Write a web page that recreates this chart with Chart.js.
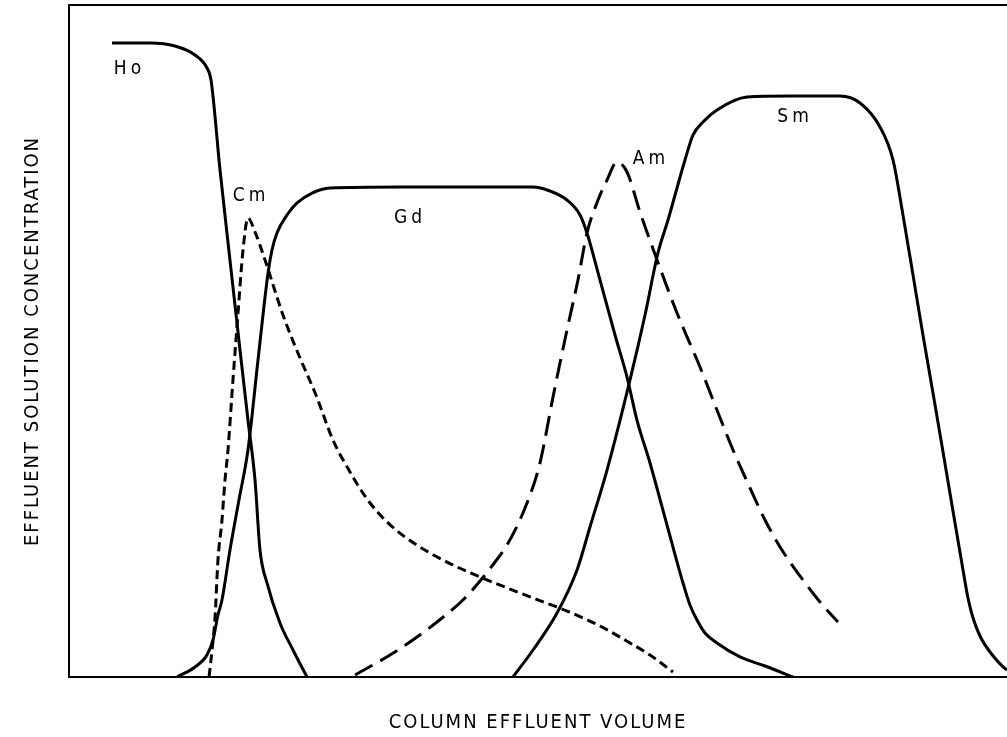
<!DOCTYPE html>
<html>
<head>
<meta charset="utf-8">
<title>Column effluent</title>
<script src="https://cdn.jsdelivr.net/npm/chart.js@4.4.1/dist/chart.umd.min.js"></script>
<style>
    html, body { margin: 0; padding: 0; background: #fff; overflow: hidden; }
    canvas { display: block; }
</style>
</head>
<body>
<canvas id="elutionChart" width="1007" height="737"></canvas>
<script>
// Elution curves (volume 0-100, concentration 0-100)
const hoX = [4.58, 8.64, 11.30, 13.43, 14.71, 15.14, 16.10, 17.16, 18.23, 19.08, 19.83, 20.36, 21.11, 22.49, 23.88, 25.37];
const hoY = [94.35, 94.35, 93.90, 92.56, 90.63, 88.84, 75.45, 62.05, 48.66, 38.24, 29.32, 18.90, 13.99, 8.04, 4.02, 0];

const cmX = [14.93, 15.25, 15.57, 15.88, 16.31, 16.63, 16.95, 17.48, 18.02, 18.55, 19.08, 19.83, 20.90, 22.81, 24.63, 26.33, 28.14, 29.96, 31.77, 33.69, 35.82, 38.49, 41.15, 43.82, 49.47, 53.09, 56.61, 59.81, 61.94, 64.39];
const cmY = [0, 4.02, 8.93, 17.41, 23.36, 29.32, 33.78, 44.20, 54.17, 63.54, 68.30, 66.22, 62.05, 53.87, 47.47, 41.96, 35.27, 30.51, 26.49, 23.36, 20.83, 18.45, 16.52, 14.88, 11.76, 9.82, 7.59, 5.06, 3.27, 0.74];

const gdX = [11.51, 13.43, 14.71, 15.35, 15.88, 16.31, 17.16, 18.12, 19.08, 20.15, 21.22, 21.64, 22.17, 23.24, 24.31, 25.91, 27.83, 35.29, 49.47, 51.28, 53.09, 54.48, 55.22, 56.61, 58.21, 59.49, 60.55, 61.94, 63.75, 65.46, 66.20, 66.95, 67.80, 69.08, 71.54, 74.20, 77.19];
const gdY = [0, 1.49, 3.27, 5.51, 9.23, 11.46, 18.90, 26.34, 33.78, 47.17, 60.12, 63.54, 66.07, 68.75, 70.54, 72.02, 72.77, 72.92, 72.92, 72.32, 70.98, 68.75, 66.07, 59.08, 50.89, 44.64, 38.24, 31.85, 22.62, 13.99, 10.71, 8.48, 6.55, 5.06, 2.98, 1.64, 0];

const amX = [30.49, 34.22, 37.10, 40.30, 42.22, 43.82, 45.42, 46.70, 48.83, 50.21, 51.60, 53.09, 54.26, 55.22, 56.40, 57.36, 58.42, 59.49, 60.87, 62.69, 64.82, 67.27, 69.08, 70.79, 72.60, 74.20, 76.01, 78.25, 80.06, 81.98];
const amY = [0.30, 3.27, 5.95, 9.38, 11.76, 14.29, 17.11, 19.64, 25.89, 31.85, 41.67, 51.64, 59.08, 66.07, 70.98, 73.96, 76.64, 75.15, 69.20, 62.05, 54.17, 46.13, 39.73, 33.78, 28.13, 23.36, 18.90, 14.43, 11.16, 8.18];

const smX = [47.33, 49.47, 52.03, 54.16, 55.54, 57.36, 59.81, 61.41, 62.79, 63.86, 65.67, 66.52, 67.59, 69.08, 72.28, 76.87, 82.20, 84.33, 86.46, 87.85, 88.91, 89.98, 91.04, 92.11, 93.18, 94.24, 95.31, 95.84, 96.38, 97.12, 98.19, 100, 101.92];
const smY = [0, 4.02, 9.52, 15.92, 22.32, 30.80, 44.20, 53.87, 63.10, 68.01, 76.93, 80.65, 82.59, 84.38, 86.31, 86.46, 86.46, 85.42, 81.85, 76.93, 68.75, 59.82, 50.89, 42.26, 33.48, 24.70, 15.92, 11.76, 8.78, 6.10, 3.72, 1.04, 0];

// Curve labels and where they sit
const labelText = ['Ho', 'Cm', 'Gd', 'Am', 'Sm'];
const labelX = [6.24, 19.19, 36.14, 61.83, 77.19];
const labelY = [90.48, 71.58, 68.30, 77.08, 83.33];

const typeFamily = "'DejaVu Sans Condensed', 'DejaVu Sans', sans-serif";
// weight string also carries the condensed stretch into the canvas font
const typeWeight = '400 condensed';

function toPoints(xs, ys) {
    return xs.map((x, i) => ({ x: x, y: ys[i] }));
}

function curve(label, xs, ys, dash) {
    return {
        label: label,
        data: toPoints(xs, ys),
        borderColor: '#000',
        borderWidth: 3,
        borderDash: dash,
        borderCapStyle: 'butt',
        pointRadius: 0,
        fill: false,
        cubicInterpolationMode: 'monotone'
    };
}

// Draw the element names next to their curves
const curveLabels = {
    id: 'curveLabels',
    beforeDraw(chart) {
        chart.ctx.letterSpacing = '2px';
    },
    afterDatasetsDraw(chart) {
        const ctx = chart.ctx;
        const xs = chart.scales.x;
        const ys = chart.scales.y;
        ctx.save();
        ctx.fillStyle = '#000';
        ctx.font = '500 condensed 19px ' + typeFamily;
        ctx.letterSpacing = '4px';
        ctx.textAlign = 'center';
        ctx.textBaseline = 'middle';
        labelText.forEach((t, i) => {
            ctx.fillText(t, xs.getPixelForValue(labelX[i]) + 2, ys.getPixelForValue(labelY[i]));
        });
        ctx.restore();
    }
};

const hiddenGrid = { display: false, drawTicks: false };
const frameLine = { display: true, color: '#000', width: 2 };

let ctx = document.getElementById('elutionChart').getContext('2d');
let elutionChart = new Chart(ctx, {
    type: 'line',
    data: {
        datasets: [
            curve('Ho', hoX, hoY, []),
            curve('Cm', cmX, cmY, [9, 5]),
            curve('Gd', gdX, gdY, []),
            curve('Am', amX, amY, [20, 9]),
            curve('Sm', smX, smY, [])
        ]
    },
    options: {
        responsive: false,
        animation: false,
        devicePixelRatio: 1,
        layout: { padding: { top: 5, left: 0, right: 0, bottom: 0 } },
        plugins: {
            legend: { display: false },
            tooltip: { enabled: false }
        },
        scales: {
            x: {
                type: 'linear',
                min: 0,
                max: 100,
                grid: hiddenGrid,
                ticks: { display: false },
                border: frameLine,
                title: {
                    display: true,
                    text: 'COLUMN EFFLUENT VOLUME',
                    color: '#000',
                    font: { family: typeFamily, weight: typeWeight, size: 20, lineHeight: 1.2 },
                    padding: { top: 34, bottom: 2 }
                }
            },
            x2: {
                type: 'linear',
                position: 'top',
                min: 0,
                max: 100,
                grid: hiddenGrid,
                ticks: { display: false },
                border: frameLine
            },
            y: {
                type: 'linear',
                min: 0,
                max: 100,
                grid: hiddenGrid,
                ticks: { display: false },
                border: frameLine,
                title: {
                    display: true,
                    text: 'EFFLUENT SOLUTION CONCENTRATION',
                    color: '#000',
                    font: { family: typeFamily, weight: typeWeight, size: 20, lineHeight: 1.2 },
                    padding: { top: 21, bottom: 24 }
                }
            }
        }
    },
    plugins: [curveLabels]
});
</script>
</body>
</html>
